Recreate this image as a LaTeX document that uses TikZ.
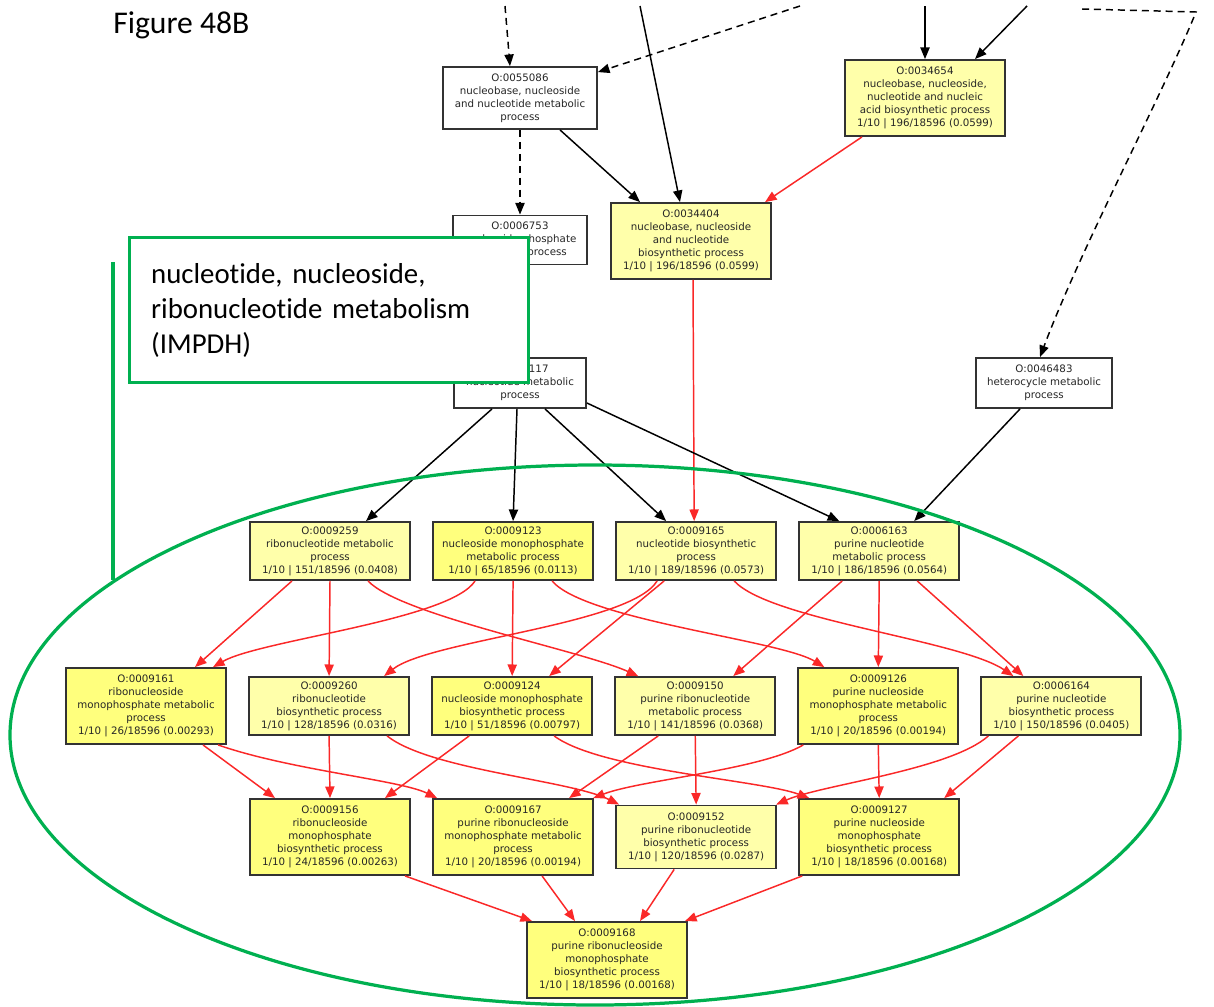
\documentclass[tikz,border=0pt]{standalone}
\usepackage{fontspec}
\setmainfont{DejaVu Sans}
\newfontfamily\notefont[Ligatures=NoCommon]{Carlito}
\usetikzlibrary{positioning}
\usetikzlibrary{arrows.meta, calc}

\definecolor{gopale}{RGB}{255,255,170}
\definecolor{gofull}{RGB}{255,255,125}
\definecolor{goedge}{RGB}{250,40,40}
\definecolor{notegreen}{RGB}{0,176,80}

\tikzstyle{term} = [rectangle, draw=black!80, line width=1.3pt, fill=white, text=black!85, align=center, font=\fontsize{7.3}{9.2}\selectfont, inner sep=1pt, minimum width=4cm, minimum height=1.45cm]
\tikzstyle{hit} = [term, fill=gopale]
\tikzstyle{hitstrong} = [term, fill=gofull]
\tikzstyle{tall} = [minimum height=1.9cm]
\tikzstyle{isa} = [line width=1.05pt, ->, >={Triangle[length=2.9mm,width=2.3mm]}]
\tikzstyle{sig} = [isa, color=goedge]
\tikzstyle{partof} = [isa, dash pattern=on 5pt off 3.5pt]
\tikzstyle{greenline} = [draw=notegreen, line width=2.3pt]

\begin{document}
\begin{tikzpicture}[x=0.025cm, y=-0.025cm]
        \useasboundingbox (0,0) rectangle (1214,1006);

        % Upper part of the graph
        \node[term, minimum width=3.85cm, minimum height=1.55cm] (n55086) at (520,98) {O:0055086\\nucleobase, nucleoside\\and nucleotide metabolic\\process};
        \node[hit, tall] (n34654) at (925,98) {O:0034654\\nucleobase, nucleoside,\\nucleotide and nucleic\\acid biosynthetic process\\1/10 | 196/18596 (0.0599)};
        \node[term, minimum width=3.35cm, minimum height=1.225cm] (n6753) at (520,240) {O:0006753\\nucleoside phosphate\\metabolic process};
        \node[hit, tall] (n34404) at (691,241) {O:0034404\\nucleobase, nucleoside\\and nucleotide\\biosynthetic process\\1/10 | 196/18596 (0.0599)};
        \node[term, minimum width=3.3cm, minimum height=1.25cm] (n9117) at (520,383) {O:0009117\\nucleotide metabolic\\process};
        \node[term, minimum width=3.4cm, minimum height=1.25cm] (n46483) at (1044,383) {O:0046483\\heterocycle metabolic\\process};

        % First row of hits
        \node[hit] (n9259) at (330,551) {O:0009259\\ribonucleotide metabolic\\process\\1/10 | 151/18596 (0.0408)};
        \node[hitstrong, right=0.53cm of n9259] (n9123) {O:0009123\\nucleoside monophosphate\\metabolic process\\1/10 | 65/18596 (0.0113)};
        \node[hit, right=0.53cm of n9123] (n9165) {O:0009165\\nucleotide biosynthetic\\process\\1/10 | 189/18596 (0.0573)};
        \node[hit, right=0.53cm of n9165] (n6163) {O:0006163\\purine nucleotide\\metabolic process\\1/10 | 186/18596 (0.0564)};

        % Second row
        \node[hitstrong, tall] (n9161) at (146,706) {O:0009161\\ribonucleoside\\monophosphate metabolic\\process\\1/10 | 26/18596 (0.00293)};
        \node[hit, right=0.53cm of n9161] (n9260) {O:0009260\\ribonucleotide\\biosynthetic process\\1/10 | 128/18596 (0.0316)};
        \node[hitstrong, right=0.53cm of n9260] (n9124) {O:0009124\\nucleoside monophosphate\\biosynthetic process\\1/10 | 51/18596 (0.00797)};
        \node[hit, right=0.53cm of n9124] (n9150) {O:0009150\\purine ribonucleotide\\metabolic process\\1/10 | 141/18596 (0.0368)};
        \node[hitstrong, tall, right=0.53cm of n9150] (n9126) {O:0009126\\purine nucleoside\\monophosphate metabolic\\process\\1/10 | 20/18596 (0.00194)};
        \node[hit, right=0.53cm of n9126] (n6164) {O:0006164\\purine nucleotide\\biosynthetic process\\1/10 | 150/18596 (0.0405)};

        % Third row
        \node[hitstrong, tall] (n9156) at (330,837) {O:0009156\\ribonucleoside\\monophosphate\\biosynthetic process\\1/10 | 24/18596 (0.00263)};
        \node[hitstrong, tall, right=0.53cm of n9156] (n9167) {O:0009167\\purine ribonucleoside\\monophosphate metabolic\\process\\1/10 | 20/18596 (0.00194)};
        \node[hit, minimum height=1.575cm, right=0.53cm of n9167] (n9152) {O:0009152\\purine ribonucleotide\\biosynthetic process\\1/10 | 120/18596 (0.0287)};
        \node[hitstrong, tall, right=0.53cm of n9152] (n9127) {O:0009127\\purine nucleoside\\monophosphate\\biosynthetic process\\1/10 | 18/18596 (0.00168)};

        % Leaf
        \node[hitstrong, tall] (n9168) at (607,960) {O:0009168\\purine ribonucleoside\\monophosphate\\biosynthetic process\\1/10 | 18/18596 (0.00168)};

        % Edges coming in from above
        \coordinate (up1) at (505,6);
        \coordinate (up2) at (800,6);
        \coordinate (up3) at (640,6);
        \coordinate (up4) at (925,6);
        \coordinate (up5) at (1027,6);
        \coordinate (up6) at (1082,9);
        \coordinate (up7) at (1196,12);
        \draw[partof] (up1) -- ($(n55086.north)+(-10,0)$);
        \draw[partof] (up2) -- ($(n55086.north east)+(0,6)$);
        \draw[isa] (up3) -- ($(n34404.north)+(-11,0)$);
        \draw[isa] (up4) -- (n34654.north);
        \draw[isa] (up5) -- ($(n34654.north)+(50,0)$);
        \draw[partof] (up6) -- (up7) .. controls (1160,100) and (1080,250) .. ($(n46483.north)+(-4,0)$);

        % Upper connections
        \draw[partof] (n55086) -- (n6753);
        \draw[isa] ($(n55086.south)+(40,0)$) -- ($(n34404.north)+(-51,0)$);
        \draw[sig] ($(n34654.south)+(-63,0)$) -- ($(n34404.north)+(74,0)$);
        \draw[sig] ($(n34404.south)+(2,0)$) -- ($(n9165.north)+(-2,0)$);
        \draw[isa] ($(n9117.south)+(-28,0)$) -- ($(n9259.north)+(36,0)$);
        \draw[isa] ($(n9117.south)+(-3,0)$) -- (n9123.north);
        \draw[isa] ($(n9117.south)+(25,0)$) -- ($(n9165.north)+(-30,0)$);
        \draw[isa] ($(n9117.east)+(0,20)$) -- ($(n6163.north)+(-40,0)$);
        \draw[isa] ($(n46483.south)+(-24,0)$) -- ($(n6163.north)+(35,0)$);

        % First row to second row
        \draw[sig] ($(n9259.south)+(-38,0)$) -- ($(n9161.north)+(49,0)$);
        \draw[sig] (n9259.south) -- (n9260.north);
        \draw[sig] ($(n9259.south)+(38,0)$) .. controls (400,615) and (580,650) .. ($(n9150.north)+(-57,0)$);
        \draw[sig] ($(n9123.south)+(-38,0)$) .. controls (450,620) and (260,640) .. ($(n9161.north)+(67,0)$);
        \draw[sig] (n9123.south) -- (n9124.north);
        \draw[sig] ($(n9123.south)+(39,0)$) .. controls (585,620) and (780,640) .. ($(n9126.north)+(-54,0)$);
        \draw[sig] ($(n9165.south)+(-39,0)$) .. controls (630,625) and (430,640) .. ($(n9260.north)+(55,0)$);
        \draw[sig] ($(n9165.south)+(-32,0)$) -- ($(n9124.north)+(37,0)$);
        \draw[sig] ($(n9165.south)+(38,0)$) .. controls (770,620) and (960,640) .. ($(n6164.north)+(-48,0)$);
        \draw[sig] ($(n6163.south)+(-37,0)$) -- ($(n9150.north)+(38,0)$);
        \draw[sig] (n6163.south) -- (n9126.north);
        \draw[sig] ($(n6163.south)+(38,0)$) -- ($(n6164.north)+(-38,0)$);

        % Second row to third row
        \draw[sig] ($(n9161.south)+(57,0)$) -- ($(n9156.north)+(-55,0)$);
        \draw[sig] ($(n9161.south)+(72,0)$) .. controls (290,770) and (400,780) .. ($(n9167.north)+(-76,0)$);
        \draw[sig] (n9260.south) -- (n9156.north);
        \draw[sig] ($(n9260.south)+(58,0)$) .. controls (430,770) and (570,780) .. ($(n9152.north)+(-77,0)$);
        \draw[sig] ($(n9124.south)+(-43,0)$) -- ($(n9156.north)+(55,0)$);
        \draw[sig] ($(n9124.south)+(42,0)$) .. controls (600,770) and (760,780) .. ($(n9127.north)+(-70,0)$);
        \draw[sig] ($(n9150.south)+(-37,0)$) -- ($(n9167.north)+(56,0)$);
        \draw[sig] (n9150.south) -- (n9152.north);
        \draw[sig] ($(n9126.south)+(-75,0)$) .. controls (760,770) and (640,780) .. ($(n9167.north)+(80,0)$);
        \draw[sig] (n9126.south) -- (n9127.north);
        \draw[sig] ($(n6164.south)+(-73,0)$) .. controls (950,770) and (820,785) .. ($(n9152.north)+(80,0)$);
        \draw[sig] ($(n6164.south)+(-43,0)$) -- ($(n9127.north)+(65,0)$);

        % Third row to the leaf
        \draw[sig] ($(n9156.south)+(75,0)$) -- ($(n9168.north)+(-75,0)$);
        \draw[sig] ($(n9167.south)+(29,0)$) -- ($(n9168.north)+(-32,0)$);
        \draw[sig] ($(n9152.south)+(-22,0)$) -- ($(n9168.north)+(33,0)$);
        \draw[sig] ($(n9127.south)+(-77,0)$) -- ($(n9168.north)+(78,0)$);

        % Annotation
        \node[anchor=base west, inner sep=0, font=\notefont\fontsize{22.5}{26}\selectfont] (caption) at (113,33) {Figure 48B};
        \node[greenline, fill=white, anchor=north west, minimum width=9.975cm, minimum height=3.625cm, text width=8.9cm, inner xsep=0.5cm, align=left, font=\notefont\fontsize{20.5}{24.8}\selectfont] (note) at (128,236) {nucleotide, nucleoside,\\ribonucleotide metabolism\\(IMPDH)};
        \coordinate (bartop) at (113,262);
        \coordinate (barbot) at (113,580);
        \draw[greenline] (bartop) -- (barbot);
        \draw[greenline] (595,735) ellipse [x radius=585, y radius=270];

    \end{tikzpicture}
\end{document}
